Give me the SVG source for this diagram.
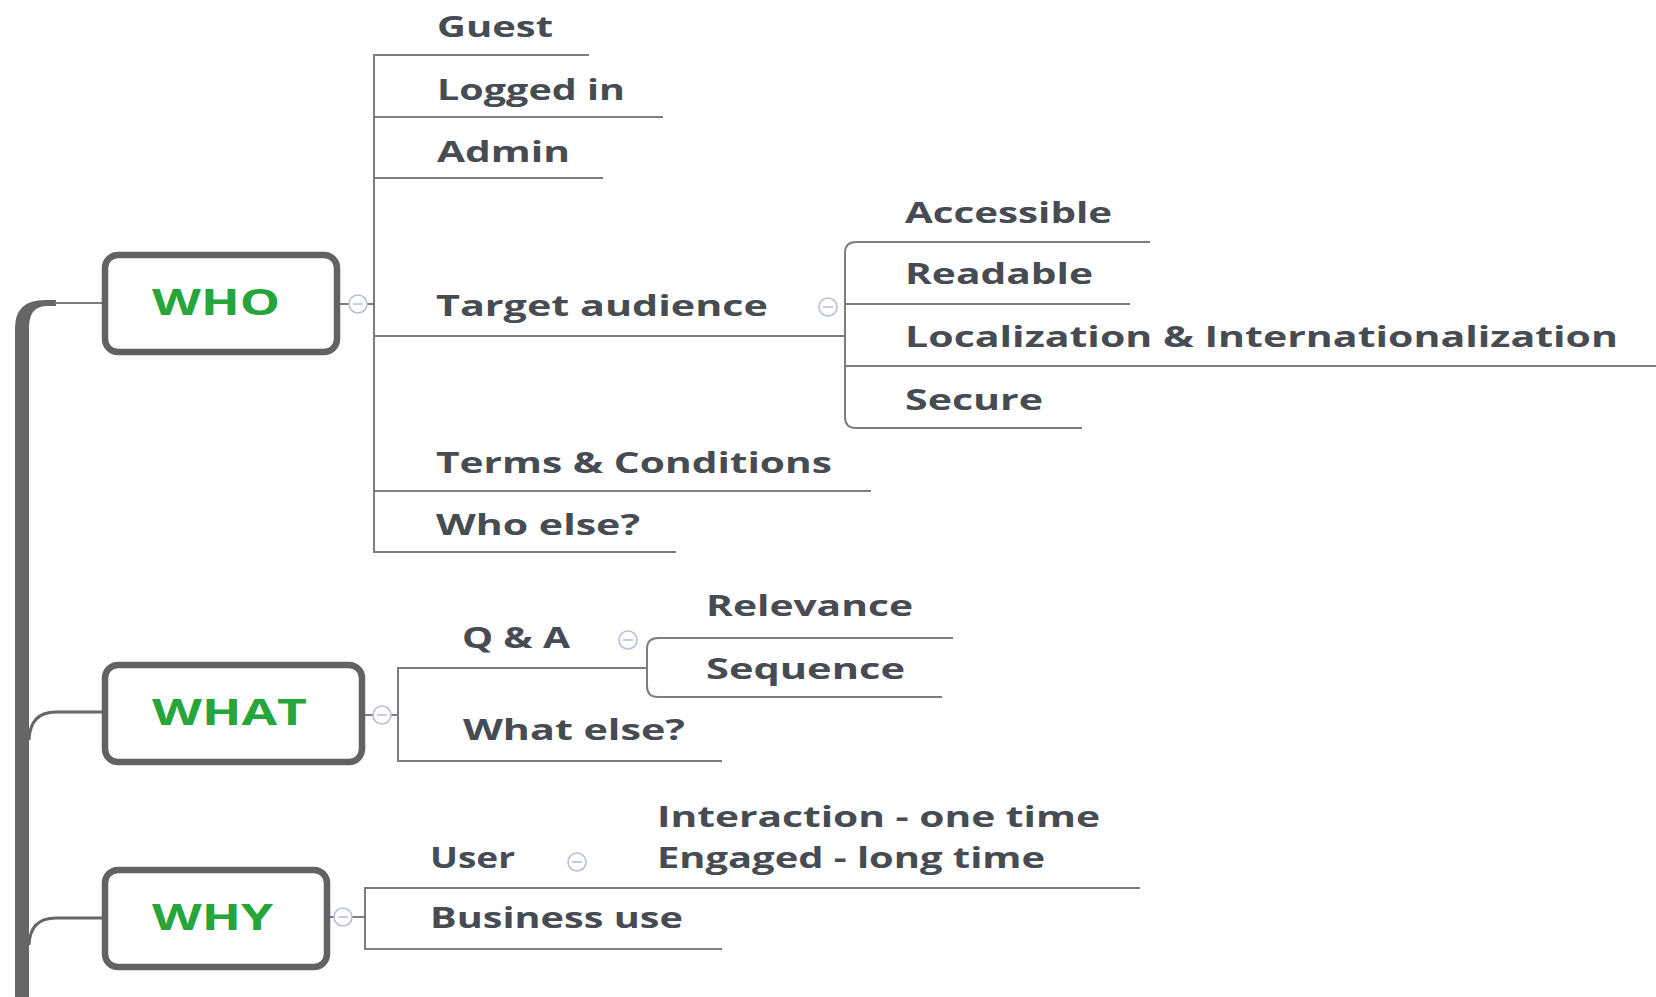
<svg xmlns="http://www.w3.org/2000/svg" width="1656" height="997" viewBox="0 0 1656 997">
<style>
.t{font-family:"Open Sans","Liberation Sans",sans-serif;font-weight:bold;font-size:28px;fill:#474b52}
.h{font-family:"Open Sans","Liberation Sans",sans-serif;font-weight:bold;font-size:36px;fill:#25a53a}
.box{fill:#fff;stroke:#626262;stroke-width:6.5}
.ln{fill:none;stroke:#7d7d7d;stroke-width:2}
.cc{fill:#fff;stroke:#b9bfd6;stroke-width:1.6}
.cm{stroke:#b9bfd6;stroke-width:1.6}
</style>
<rect width="1656" height="997" fill="#fff"/>
<g id="connectors">
  <path d="M15 997 V328 Q15 300 45 300 H56 V306 H47 Q29 306 29 328 V997 Z" fill="#666"/>
  <path d="M55 303 H105" class="ln" stroke-width="2.5"/>
  <path d="M29 740 Q30 712 56 712 H105" fill="none" stroke="#666" stroke-width="3"/>
  <path d="M29 945 Q30 918 56 918 H105" fill="none" stroke="#666" stroke-width="3"/>
  <!-- WHO -->
  <path d="M337 304 H349 M367 304 H374" class="ln"/>
  <path d="M589 55 H374 V552 H676" class="ln"/>
  <path d="M374 117 H663" class="ln"/>
  <path d="M374 178 H603" class="ln"/>
  <path d="M374 336 H845" class="ln"/>
  <path d="M374 491 H871" class="ln"/>
  <path d="M1150 242 H856 Q845 242 845 253 V417 Q845 428 856 428 H1082" class="ln"/>
  <path d="M845 304 H1130" class="ln"/>
  <path d="M845 366 H1656" class="ln" stroke-width="2.5"/>
  <!-- WHAT -->
  <path d="M362 715 H373 M391 715 H398" class="ln"/>
  <path d="M647 668 H398 V761 H722" class="ln"/>
  <path d="M953 638 H658 Q647 638 647 649 V686 Q647 697 658 697 H942" class="ln"/>
  <!-- WHY -->
  <path d="M327 917 H334 M352 917 H365" class="ln"/>
  <path d="M1140 888 H365 V949 H722" class="ln"/>
</g>
<g id="who">
  <rect class="box" x="105" y="255" width="232" height="97" rx="13"/>
  <text class="h" x="152" y="315" textLength="128" lengthAdjust="spacingAndGlyphs">WHO</text>
  <circle class="cc" cx="358" cy="304" r="9"/><path class="cm" d="M353 304 H363"/>
</g>
<g id="guest"><text class="t" x="437" y="37" textLength="116" lengthAdjust="spacingAndGlyphs">Guest</text></g>
<g id="logged-in"><text class="t" x="437" y="100" textLength="188" lengthAdjust="spacingAndGlyphs">Logged in</text></g>
<g id="admin"><text class="t" x="437" y="162" textLength="133" lengthAdjust="spacingAndGlyphs">Admin</text></g>
<g id="target-audience">
  <text class="t" x="436" y="316" textLength="332" lengthAdjust="spacingAndGlyphs">Target audience</text>
  <circle class="cc" cx="828" cy="307" r="9"/><path class="cm" d="M823 307 H833"/>
</g>
<g id="accessible"><text class="t" x="905" y="223" textLength="207" lengthAdjust="spacingAndGlyphs">Accessible</text></g>
<g id="readable"><text class="t" x="905" y="284" textLength="188" lengthAdjust="spacingAndGlyphs">Readable</text></g>
<g id="localization"><text class="t" x="905" y="347" textLength="713" lengthAdjust="spacingAndGlyphs">Localization &amp; Internationalization</text></g>
<g id="secure"><text class="t" x="905" y="410" textLength="138" lengthAdjust="spacingAndGlyphs">Secure</text></g>
<g id="terms"><text class="t" x="436" y="473" textLength="396" lengthAdjust="spacingAndGlyphs">Terms &amp; Conditions</text></g>
<g id="who-else"><text class="t" x="436" y="535" textLength="204" lengthAdjust="spacingAndGlyphs">Who else?</text></g>
<g id="what">
  <rect class="box" x="105" y="665" width="257" height="97" rx="13"/>
  <text class="h" x="152" y="725" textLength="155" lengthAdjust="spacingAndGlyphs">WHAT</text>
  <circle class="cc" cx="382" cy="715" r="9"/><path class="cm" d="M377 715 H387"/>
</g>
<g id="qa">
  <text class="t" x="462" y="648" textLength="108" lengthAdjust="spacingAndGlyphs">Q &amp; A</text>
  <circle class="cc" cx="628" cy="640" r="9"/><path class="cm" d="M623 640 H633"/>
</g>
<g id="relevance"><text class="t" x="706" y="616" textLength="207" lengthAdjust="spacingAndGlyphs">Relevance</text></g>
<g id="sequence"><text class="t" x="706" y="679" textLength="199" lengthAdjust="spacingAndGlyphs">Sequence</text></g>
<g id="what-else"><text class="t" x="463" y="740" textLength="222" lengthAdjust="spacingAndGlyphs">What else?</text></g>
<g id="why">
  <rect class="box" x="105" y="870" width="222" height="97" rx="13"/>
  <text class="h" x="152" y="930" textLength="121" lengthAdjust="spacingAndGlyphs">WHY</text>
  <circle class="cc" cx="343" cy="917" r="9"/><path class="cm" d="M338 917 H348"/>
</g>
<g id="user">
  <text class="t" x="430" y="868" textLength="85" lengthAdjust="spacingAndGlyphs">User</text>
  <circle class="cc" cx="577" cy="862" r="9"/><path class="cm" d="M572 862 H582"/>
</g>
<g id="interaction"><text class="t" x="657" y="827" textLength="443" lengthAdjust="spacingAndGlyphs">Interaction - one time</text></g>
<g id="engaged"><text class="t" x="657" y="868" textLength="388" lengthAdjust="spacingAndGlyphs">Engaged - long time</text></g>
<g id="business-use"><text class="t" x="430" y="928" textLength="253" lengthAdjust="spacingAndGlyphs">Business use</text></g>
</svg>
